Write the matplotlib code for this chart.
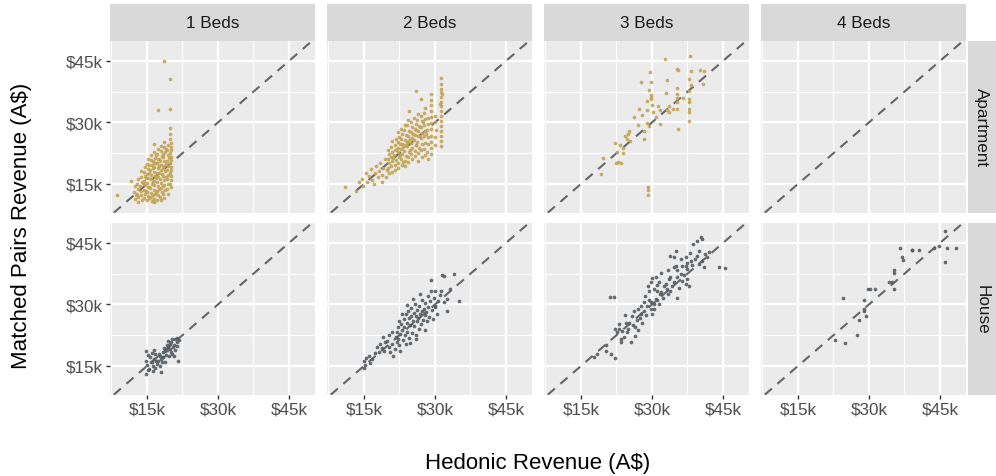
import matplotlib
matplotlib.use("Agg")
import matplotlib.pyplot as plt
from matplotlib.ticker import FixedLocator

plt.rcParams['font.family'] = ['Liberation Sans', 'DejaVu Sans']

beds = ["1 Beds", "2 Beds", "3 Beds", "4 Beds"]
types = ["Apartment", "House"]
ticks = [15, 30, 45]
tick_labels = ["$15k", "$30k", "$45k"]

# (hedonic, matched pairs) revenue in A$ thousands
apt_1bed = [
    (18.7, 45.1), (19.9, 40.5), (17.4, 33.0), (19.9, 33.3), (19.9, 28.6), (19.9, 27.2), (19.9, 26.0),
    (8.6, 12.3), (11.7, 15.8), (12.5, 11.3), (13.1, 10.7),
    (20.1, 25.0), (20.0, 24.1), (20.1, 23.3), (19.9, 22.5), (20.0, 21.6), (20.1, 20.9), (19.9, 20.0),
    (20.0, 19.2), (20.1, 18.5), (19.9, 17.7), (20.0, 16.9), (20.1, 16.0), (19.9, 15.1), (20.0, 14.3),
    (19.4, 24.6), (19.3, 23.2), (19.5, 22.0), (19.2, 20.7), (19.4, 19.5), (19.3, 18.3), (19.5, 17.2),
    (19.2, 16.1), (19.4, 15.0), (19.3, 13.8), (19.5, 12.6),
    (18.7, 25.3), (18.6, 24.0), (18.8, 22.9), (18.5, 21.6), (18.7, 20.5), (18.6, 19.3), (18.8, 18.1),
    (18.5, 17.0), (18.7, 15.9), (18.6, 14.8), (18.8, 13.6), (18.5, 12.5), (18.7, 11.5),
    (18.0, 24.3), (17.9, 23.0), (18.1, 21.8), (17.8, 20.6), (18.0, 19.6), (17.9, 18.5), (18.1, 17.4),
    (17.8, 16.3), (18.0, 15.2), (17.9, 14.1), (18.1, 13.0), (17.8, 11.9), (18.0, 11.0),
    (17.3, 23.6), (17.2, 22.3), (17.4, 21.1), (17.1, 20.0), (17.3, 18.9), (17.2, 17.8), (17.4, 16.7),
    (17.1, 15.6), (17.3, 14.5), (17.2, 13.4), (17.4, 12.3), (17.1, 11.2),
    (16.6, 24.8), (16.5, 22.7), (16.7, 21.4), (16.4, 20.2), (16.6, 19.1), (16.5, 18.0), (16.7, 16.9),
    (16.4, 15.8), (16.6, 14.7), (16.5, 13.6), (16.7, 12.5), (16.4, 11.4), (16.6, 10.6),
    (15.9, 22.1), (15.8, 20.8), (16.0, 19.6), (15.7, 18.4), (15.9, 17.3), (15.8, 16.2), (16.0, 15.1),
    (15.7, 14.0), (15.9, 12.9), (15.8, 11.8), (16.0, 10.9),
    (15.2, 21.2), (15.1, 19.8), (15.3, 18.6), (15.0, 17.5), (15.2, 16.4), (15.1, 15.3), (15.3, 14.2),
    (15.0, 13.1), (15.2, 12.0), (15.1, 11.1),
    (14.5, 19.2), (14.4, 18.0), (14.6, 16.9), (14.3, 15.8), (14.5, 14.7), (14.4, 13.6), (14.6, 12.5),
    (14.3, 11.5), (13.8, 18.1), (13.7, 16.8), (13.9, 15.6), (13.6, 14.4), (13.8, 13.3), (13.7, 12.2),
    (13.9, 11.2), (13.1, 16.3), (13.0, 15.0), (13.2, 13.8), (12.9, 12.6), (13.1, 11.8),
    (12.4, 14.4), (12.3, 13.1), (12.6, 12.2),
    (19.6, 21.3), (19.0, 19.9), (18.3, 18.8), (17.6, 17.6), (16.9, 16.4), (16.2, 15.5), (15.5, 14.3),
    (14.8, 13.3), (19.0, 23.6), (18.3, 22.4), (17.6, 21.2), (16.9, 20.0), (16.2, 18.9), (15.5, 17.8),
    (14.8, 16.5), (14.1, 15.2), (18.3, 14.6), (17.6, 13.8), (16.9, 13.0), (16.2, 12.2), (15.5, 11.5),
    (19.0, 16.7), (17.6, 19.3), (16.9, 22.0), (16.2, 20.5), (15.5, 19.7),
]

apt_2bed = [
    (11.1, 14.2), (13.9, 15.4), (13.4, 13.4), (14.5, 16.3), (14.9, 14.6), (15.4, 17.8), (15.6, 15.5),
    (16.1, 16.9), (16.5, 18.6), (16.8, 16.0), (17.1, 14.9), (17.3, 17.6), (17.6, 19.3), (17.9, 16.6),
    (18.2, 18.1), (18.5, 20.2), (18.9, 15.4), (18.8, 17.3), (19.1, 19.0), (19.4, 21.2), (19.6, 16.8),
    (19.8, 18.4),
    (20.2, 17.6), (20.1, 18.9), (20.3, 20.0), (20.0, 21.1), (20.2, 22.3), (20.1, 23.4),
    (20.9, 18.0), (20.8, 19.3), (21.0, 20.5), (20.7, 21.7), (20.9, 22.9), (20.8, 24.1), (21.0, 25.5),
    (21.6, 18.4), (21.5, 19.7), (21.7, 20.9), (21.4, 22.1), (21.6, 23.3), (21.5, 24.6), (21.7, 26.0),
    (22.3, 19.0), (22.2, 20.2), (22.4, 21.5), (22.1, 22.7), (22.3, 23.9), (22.2, 25.2), (22.4, 26.5),
    (22.1, 27.8), (23.0, 19.6), (22.9, 21.0), (23.1, 22.2), (22.8, 23.5), (23.0, 24.7), (22.9, 26.0),
    (23.1, 27.3), (22.8, 28.5),
    (23.7, 19.3), (23.6, 20.6), (23.8, 21.9), (23.5, 23.1), (23.7, 24.4), (23.6, 25.7), (23.8, 27.0),
    (23.5, 28.2), (23.7, 29.5),
    (24.4, 20.4), (24.3, 21.7), (24.5, 22.9), (24.2, 24.2), (24.4, 25.4), (24.3, 26.7), (24.5, 28.0),
    (24.2, 29.3), (24.4, 30.6), (24.6, 32.9),
    (25.1, 21.1), (25.0, 22.4), (25.2, 23.7), (24.9, 25.0), (25.1, 26.3), (25.0, 27.6), (25.2, 28.9),
    (24.9, 30.2),
    (25.8, 21.8), (25.7, 23.1), (25.9, 24.4), (25.6, 25.7), (25.8, 27.0), (25.7, 28.3), (25.9, 29.6),
    (25.6, 31.0), (25.9, 37.6),
    (26.5, 20.7), (26.4, 22.5), (26.6, 23.9), (26.3, 25.2), (26.5, 26.6), (26.4, 27.9), (26.6, 29.2),
    (26.3, 30.6), (26.5, 32.0),
    (27.2, 21.5), (27.1, 23.2), (27.3, 24.7), (27.0, 26.1), (27.2, 27.5), (27.1, 28.9), (27.3, 30.3),
    (27.0, 31.7), (27.0, 35.7),
    (27.8, 22.0), (27.7, 23.6), (27.9, 25.1), (27.6, 26.6), (27.8, 28.0), (27.7, 29.4), (27.9, 30.8),
    (27.6, 32.3), (27.8, 33.5),
    (28.5, 21.2), (28.4, 22.9), (28.6, 24.7), (28.5, 26.4), (28.4, 28.1), (28.6, 29.6), (28.5, 31.2),
    (29.2, 22.3), (29.2, 23.8), (29.2, 25.3), (29.2, 26.8), (29.2, 28.3), (29.2, 29.8), (29.2, 31.3),
    (29.2, 32.8), (29.2, 34.3), (29.2, 35.6), (29.2, 37.0),
    (30.1, 24.6), (30.0, 26.4), (30.2, 28.2), (30.0, 30.0), (30.1, 31.6),
    (31.2, 24.3), (31.2, 25.5), (31.2, 26.7), (31.2, 27.9), (31.2, 29.1), (31.2, 30.3), (31.2, 31.5),
    (31.2, 32.7), (31.2, 33.9), (31.2, 35.1), (31.2, 36.3), (31.2, 37.5), (31.2, 38.2), (31.2, 39.4),
    (31.2, 40.8), (31.0, 34.5), (31.4, 36.9),
    (21.2, 21.3), (22.6, 22.1), (23.3, 24.0), (24.0, 25.0), (24.7, 26.0), (25.4, 27.2), (26.1, 28.2),
    (26.8, 29.0), (27.5, 30.0), (28.1, 27.2), (23.3, 20.3), (24.7, 23.2), (26.1, 24.5), (26.8, 26.8),
    (22.6, 24.8), (21.9, 23.6),
]

apt_3bed = [
    (32.7, 45.5), (38.0, 46.3), (35.4, 43.0), (35.5, 42.9), (38.3, 42.6), (40.1, 42.9), (41.0, 42.6),
    (29.5, 42.4), (37.9, 40.6), (33.2, 40.3), (27.7, 39.8), (29.7, 39.8), (40.8, 39.4), (38.2, 39.1),
    (35.4, 38.3), (29.4, 38.0), (37.8, 37.8), (33.0, 37.2), (29.7, 36.8), (29.7, 36.3), (29.7, 35.7),
    (35.4, 37.0), (35.4, 35.9), (36.5, 35.9), (37.8, 35.7), (29.0, 35.3), (35.4, 34.9), (37.8, 34.9),
    (30.1, 34.3), (31.3, 33.9), (33.6, 33.9), (27.3, 33.3), (29.0, 33.1), (31.7, 33.1), (33.1, 33.1),
    (35.4, 33.3), (37.8, 33.3), (37.8, 32.5), (30.3, 32.5), (33.7, 32.5), (34.5, 33.4), (26.3, 31.3),
    (27.9, 31.8), (30.9, 31.3), (37.8, 30.4), (27.0, 29.4), (29.0, 29.9), (29.4, 29.2), (31.7, 29.6),
    (35.5, 28.3), (28.3, 28.0), (25.1, 28.0), (24.4, 26.8), (24.9, 27.2), (24.8, 26.0), (25.4, 25.6),
    (28.3, 26.0), (22.3, 25.0), (23.2, 24.6), (23.9, 23.9), (22.7, 22.9), (23.9, 22.6), (19.6, 21.3),
    (22.5, 20.0), (22.9, 20.4), (23.5, 20.0), (19.2, 17.4), (29.2, 14.2), (29.2, 13.6), (29.2, 12.2),
]

house_1bed = [
    (14.9, 18.7), (14.9, 16.3), (14.9, 13.0), (15.0, 15.2), (15.3, 17.6), (15.6, 17.1), (15.5, 14.3),
    (15.8, 16.0), (16.0, 15.9), (16.1, 18.2), (16.3, 15.1), (16.4, 16.7), (16.7, 17.9), (16.8, 14.6),
    (17.0, 16.2), (17.2, 15.4), (17.4, 16.3), (17.5, 18.0), (17.7, 17.5), (17.8, 14.9), (18.0, 16.8),
    (18.1, 15.9), (18.3, 18.5), (18.4, 17.3), (18.5, 17.1), (18.6, 19.3), (18.8, 18.7), (18.9, 16.0),
    (19.0, 17.8), (19.2, 20.0), (19.3, 18.9), (19.5, 21.2), (19.4, 19.6), (19.6, 17.4), (19.8, 20.4),
    (19.9, 19.1), (20.0, 18.4), (20.2, 17.9), (20.1, 20.8), (20.4, 21.5), (20.5, 19.6), (20.7, 17.5),
    (20.9, 21.6), (20.8, 20.2), (21.0, 18.8), (21.3, 20.8), (21.3, 21.9), (21.4, 19.9), (21.6, 16.3),
    (21.7, 21.3), (16.2, 13.7), (17.9, 13.6), (15.2, 14.0), (16.6, 19.0),
]

house_2bed = [
    (15.0, 14.5), (15.2, 15.3), (15.0, 16.3), (15.4, 17.0), (16.1, 17.5), (16.3, 15.8), (16.8, 16.6),
    (17.4, 18.2), (17.8, 19.6), (18.2, 18.3), (18.5, 20.4), (18.8, 19.5), (19.2, 18.7), (19.5, 20.8),
    (19.9, 21.2), (20.3, 19.6), (20.6, 18.3), (20.9, 20.4), (21.2, 17.4), (21.5, 19.2), (21.7, 22.0),
    (21.9, 20.9), (22.0, 23.2), (22.1, 24.6), (22.4, 20.0), (22.3, 21.5), (22.7, 18.7), (22.6, 22.8),
    (22.9, 25.3), (23.0, 23.8), (23.2, 21.4), (23.4, 26.4), (23.5, 24.5), (23.6, 22.6), (23.8, 20.4),
    (23.9, 27.6), (24.0, 25.6), (24.2, 23.4), (24.4, 28.3), (24.5, 26.7), (24.6, 21.9), (24.8, 24.9),
    (24.9, 27.2), (25.0, 29.1), (25.2, 23.0), (25.3, 26.0), (25.5, 28.0), (25.6, 24.8), (25.8, 30.0),
    (25.9, 27.1), (26.0, 22.5), (26.2, 25.9), (26.3, 28.7), (26.5, 26.8), (26.6, 24.0), (26.7, 29.6),
    (26.9, 27.8), (27.0, 25.3), (27.2, 28.4), (27.3, 31.2), (27.5, 26.2), (27.6, 29.0), (27.8, 23.7),
    (27.9, 27.5), (28.0, 30.4), (28.2, 28.1), (28.4, 25.9), (28.5, 32.0), (28.6, 29.3), (28.8, 27.0),
    (29.0, 30.9), (29.1, 36.0), (29.1, 33.2), (29.3, 28.6), (29.5, 26.4), (29.7, 31.6), (30.0, 29.4),
    (30.1, 33.2), (30.1, 29.7), (30.4, 27.8), (30.6, 30.8), (31.0, 32.4), (31.2, 33.2), (31.5, 37.3),
    (31.9, 37.0), (32.0, 30.5), (32.6, 31.3), (32.6, 28.5), (33.1, 33.8), (34.0, 37.4), (35.1, 30.9),
    (24.1, 29.9), (23.0, 27.6), (22.5, 26.0), (25.4, 31.4), (26.8, 32.5), (21.0, 23.3), (20.4, 22.5),
    (19.0, 22.0), (24.7, 20.6), (26.1, 21.6),
]

house_3bed = [
    (17.7, 17.1), (18.5, 17.9), (20.2, 20.0), (20.2, 18.7), (22.3, 17.0), (21.3, 17.9), (22.3, 24.0),
    (22.7, 23.2), (23.0, 24.0), (23.5, 21.6), (23.4, 20.8), (23.7, 23.6), (24.9, 24.0), (25.5, 20.8),
    (24.8, 23.2), (25.1, 25.6), (25.7, 27.3), (26.2, 28.5), (26.9, 26.1), (27.1, 23.8), (27.7, 27.7),
    (28.3, 28.5), (27.6, 29.7), (28.3, 30.5), (29.0, 29.7), (29.7, 28.9), (30.1, 27.7), (30.4, 30.1),
    (30.8, 31.3), (29.4, 33.4), (30.4, 33.8), (30.1, 36.5), (30.8, 36.6), (29.7, 35.4), (31.1, 33.4),
    (31.8, 32.6), (31.5, 35.4), (32.5, 34.6), (33.2, 33.8), (33.9, 33.4), (35.4, 31.7), (33.6, 36.2),
    (33.9, 36.6), (34.6, 39.1), (35.0, 39.5), (35.4, 38.3), (36.1, 37.4), (36.4, 35.8), (37.1, 35.0),
    (37.5, 36.2), (37.8, 34.6), (37.3, 41.5), (36.1, 41.1), (34.6, 41.5), (33.8, 41.9), (35.0, 43.1),
    (37.1, 39.5), (37.5, 38.7), (38.2, 40.7), (38.7, 44.8), (39.6, 41.9), (39.9, 43.1), (40.6, 46.0),
    (39.6, 45.6), (40.3, 46.4), (41.3, 42.3), (41.7, 41.5), (40.6, 40.7), (41.0, 39.2), (42.0, 42.7),
    (44.2, 39.2), (45.4, 38.9), (21.1, 31.9), (22.0, 31.9),
    (24.0, 22.0), (24.5, 25.4), (25.9, 25.0), (26.5, 24.4), (27.0, 29.0), (27.4, 26.6), (28.0, 25.6),
    (28.8, 27.4), (29.3, 31.0), (29.9, 30.6), (30.5, 29.0), (31.0, 31.0), (31.4, 30.2), (32.0, 33.0),
    (32.4, 31.6), (32.9, 35.0), (33.3, 32.6), (34.2, 34.5), (34.7, 35.6), (35.3, 36.6), (35.8, 34.0),
    (36.3, 39.5), (36.8, 37.2), (37.4, 40.0), (38.0, 42.5), (38.5, 39.6), (39.2, 41.0), (40.0, 39.8),
    (33.5, 38.5), (32.0, 37.8), (31.0, 34.8), (28.6, 32.0), (29.2, 34.5), (26.5, 22.4), (24.3, 27.4),
    (23.0, 25.3),
]

house_4bed = [
    (46.0, 48.0), (46.0, 40.3), (46.5, 43.8), (48.4, 43.8), (43.7, 43.8), (44.7, 44.2), (36.6, 43.8),
    (39.0, 43.3), (39.2, 43.3), (40.6, 43.3), (37.0, 41.5), (37.1, 40.9), (35.2, 38.3), (35.4, 37.6),
    (34.3, 35.6), (34.9, 35.6), (35.4, 33.8), (29.8, 33.8), (30.3, 33.8), (31.3, 33.8), (24.6, 31.7),
    (28.9, 31.2), (28.9, 28.9), (29.0, 28.3), (29.4, 27.3), (28.0, 26.1), (27.5, 22.6), (22.9, 21.3),
    (24.9, 20.7),
]

panels = {
    ("Apartment", "1 Beds"): apt_1bed, ("Apartment", "2 Beds"): apt_2bed,
    ("Apartment", "3 Beds"): apt_3bed, ("Apartment", "4 Beds"): [],
    ("House", "1 Beds"): house_1bed, ("House", "2 Beds"): house_2bed,
    ("House", "3 Beds"): house_3bed, ("House", "4 Beds"): house_4bed,
}
colours = {"Apartment": "#C4A455", "House": "#565C63"}

W, H = 996, 477
fig = plt.figure(figsize=(W / 100, H / 100), dpi=100)
fig.patch.set_facecolor("white")

xlim = (7.2, 50.4)
ylim = (8.0, 49.8)

col_left = [110, 327, 544, 761]
panel_w = 204.5
row_top = [42.3, 224.3]
panel_h = 171.4


def box(x0, y0, w, h):
    return [x0 / W, 1 - (y0 + h) / H, w / W, h / H]


for r, t in enumerate(types):
    for c, b in enumerate(beds):
        ax = fig.add_axes(box(col_left[c], row_top[r], panel_w, panel_h))
        ax.set_facecolor("#EBEBEB")
        ax.set_xlim(*xlim)
        ax.set_ylim(*ylim)
        for s in ax.spines.values():
            s.set_visible(False)
        ax.xaxis.set_major_locator(FixedLocator(ticks))
        ax.yaxis.set_major_locator(FixedLocator(ticks))
        ax.xaxis.set_minor_locator(FixedLocator([7.5, 22.5, 37.5]))
        ax.yaxis.set_minor_locator(FixedLocator([7.5, 22.5, 37.5]))
        ax.grid(which="major", color="white", lw=1.6)
        ax.grid(which="minor", color="white", lw=0.8)
        ax.set_axisbelow(True)
        ax.tick_params(which="minor", length=0)
        ax.tick_params(which="major", length=3, width=1, color="#333333",
                       labelsize=12.3, labelcolor="#4D4D4D", pad=2)
        if r == 1:
            ax.set_xticklabels(tick_labels)
        else:
            ax.set_xticklabels([])
            ax.tick_params(axis="x", length=0)
        if c == 0:
            ax.set_yticklabels(tick_labels)
        else:
            ax.set_yticklabels([])
            ax.tick_params(axis="y", length=0)

        ax.axline((15, 15), slope=1, color="#666666", lw=1.5, ls=(0, (4.5, 3.5)), zorder=2)
        pts = panels[(t, b)]
        if pts:
            xs = [p[0] for p in pts]
            ys = [p[1] for p in pts]
            ax.scatter(xs, ys, s=7, color=colours[t], alpha=0.9, lw=0, zorder=3)

# column strips
for c, b in enumerate(beds):
    sa = fig.add_axes(box(col_left[c], 5, panel_w, 37))
    sa.set_facecolor("#D9D9D9")
    sa.set_xticks([])
    sa.set_yticks([])
    for s in sa.spines.values():
        s.set_visible(False)
    sa.text(0.5, 0.5, b, ha="center", va="center", fontsize=12.3, color="#1A1A1A",
            transform=sa.transAxes)

# row strips
for r, t in enumerate(types):
    sa = fig.add_axes(box(967.5, row_top[r], 28.5, panel_h))
    sa.set_facecolor("#D9D9D9")
    sa.set_xticks([])
    sa.set_yticks([])
    for s in sa.spines.values():
        s.set_visible(False)
    sa.text(0.5, 0.5, t, ha="center", va="center", fontsize=12.3, color="#1A1A1A",
            rotation=-90, transform=sa.transAxes)

fig.text(538 / W, 1 - 464 / H, "Hedonic Revenue (A$)", ha="center", va="center",
         fontsize=16, color="black")
fig.text(22 / W, 1 - 226 / H, "Matched Pairs Revenue (A$)", ha="center", va="center",
         fontsize=16, color="black", rotation=90)

fig.savefig("out.png", dpi=100)
